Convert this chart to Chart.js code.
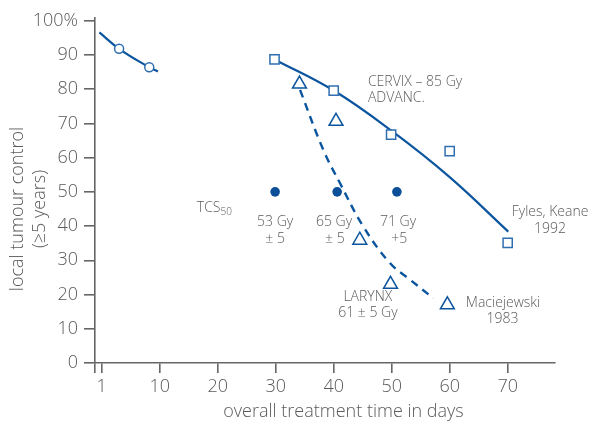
<!DOCTYPE html>
<html>
<head>
<meta charset="utf-8">
<script src="https://cdn.jsdelivr.net/npm/chart.js@4/dist/chart.umd.min.js"></script>
<style>
  html, body { margin: 0; padding: 0; background: #fff; }
  canvas { display: block; }
</style>
</head>
<body>
<canvas id="chart" width="596" height="424"></canvas>
<script>
/* axis ticks */
const xTicks = [0, 10, 20, 30, 40, 50, 60, 70];
const xTickLabels = ["1", "10", "20", "30", "40", "50", "60", "70"];
const yTicks = [0, 10, 20, 30, 40, 50, 60, 70, 80, 90, 100];

/* short treatments (open circles + fitted curve) */
const shortDays = [3.0, 8.2];
const shortControl = [91.8, 86.4];
const shortFitDays = [-0.4, 3.0, 8.2, 9.7];
const shortFitControl = [96.6, 91.8, 86.4, 85.2];

/* cervix - 85 Gy advanced (Fyles, Keane 1992) */
const cervixDays = [29.8, 40, 49.9, 60, 70];
const cervixControl = [88.7, 79.6, 66.7, 61.9, 35.1];
const cervixFitDays = [29.8, 40, 50, 60, 70.1];
const cervixFitControl = [88.7, 79.6, 67.8, 54.3, 38.4];

/* larynx 61 +- 5 Gy (Maciejewski 1983) */
const larynxDays = [34.1, 40.4, 44.5, 49.8, 59.6];
const larynxControl = [81.5, 70.6, 35.9, 23.0, 17.0];
const larynxFitDays = [34.2, 38.2, 41.1, 45.1, 49.7, 53.2, 57.2];
const larynxFitControl = [79.8, 62.3, 52.5, 39.9, 29.2, 24.3, 18.9];

/* TCS50 points */
const tcsDays = [29.9, 40.6, 50.9];
const tcsControl = [50, 50, 50];

const BLUE = "#0b559f";
const MARK = "#2f6fb0";
const GREY = "#5a5a5a";
const AXIS = "#666";
const FONT = '"Open Sans", sans-serif';

const pts = (xs, ys) => xs.map((x, i) => ({x: x, y: ys[i]}));

// text notes, anchored in data units
const notes = [
  {t: "53 Gy", x: 29.9, y: 41.2, a: "center"},
  {t: "± 5", x: 29.9, y: 36.2, a: "center"},
  {t: "65 Gy", x: 40.05, y: 41.2, a: "center"},
  {t: "± 5", x: 40.2, y: 36.2, a: "center"},
  {t: "71 Gy", x: 51.1, y: 41.2, a: "center"},
  {t: "+5", x: 51.3, y: 36.2, a: "center"},
  {t: "CERVIX – 85 Gy", x: 45.9, y: 82.1, a: "left"},
  {t: "ADVANC.", x: 45.9, y: 77.4, a: "left"},
  {t: "Fyles, Keane", x: 77.3, y: 44.1, a: "center"},
  {t: "1992", x: 77.3, y: 39.1, a: "center"},
  {t: "LARYNX", x: 45.9, y: 19.3, a: "center"},
  {t: "61 ± 5 Gy", x: 45.9, y: 14.6, a: "center"},
  {t: "Maciejewski", x: 69.2, y: 17.5, a: "center"},
  {t: "1983", x: 69.1, y: 12.9, a: "center"}
];

const notesPlugin = {
  id: "notes",
  afterDraw(chart) {
    const {ctx} = chart;
    const sx = chart.scales.x, sy = chart.scales.y;
    ctx.save();
    ctx.fillStyle = GREY;
    ctx.textBaseline = "middle";
    ctx.font = "300 14px " + FONT;
    notes.forEach(n => {
      ctx.textAlign = n.a;
      ctx.fillText(n.t, sx.getPixelForValue(n.x), sy.getPixelForValue(n.y));
    });
    // TCS with subscript 50
    const tx = sx.getPixelForValue(16.4), ty = sy.getPixelForValue(45.3);
    ctx.textAlign = "left";
    ctx.fillText("TCS", tx, ty);
    const w = ctx.measureText("TCS").width;
    ctx.font = "300 10px " + FONT;
    ctx.fillText("50", tx + w, ty + 4);
    // axis titles
    ctx.font = "300 18px " + FONT;
    ctx.textAlign = "center";
    ctx.fillText("overall treatment time in days", 343.5, 412);
    ctx.translate(18, 209);
    ctx.rotate(-Math.PI / 2);
    ctx.fillText("local tumour control", 0, 0);
    ctx.fillText("(≥5 years)", 0, 22);
    ctx.restore();
  }
};

Chart.defaults.font.family = FONT;
Chart.defaults.font.weight = 300;
Chart.defaults.color = GREY;

new Chart(document.getElementById("chart"), {
  type: "scatter",
  data: {
    datasets: [
      {data: pts(shortDays, shortControl), pointStyle: "circle", pointRadius: 4.5,
        borderColor: MARK, backgroundColor: "#fff", borderWidth: 1.5, order: 0},
      {data: pts(cervixDays, cervixControl), pointStyle: "rect", pointRadius: 6.5,
        borderColor: MARK, backgroundColor: "#fff", borderWidth: 1.5, order: 0},
      {data: pts(larynxDays, larynxControl), pointStyle: "triangle", pointRadius: 8,
        borderColor: BLUE, backgroundColor: "#fff", borderWidth: 1.5, order: 0},
      {data: pts(tcsDays, tcsControl), pointStyle: "circle", pointRadius: 4.8,
        borderColor: "#0a4f97", backgroundColor: "#0a4f97", borderWidth: 0, order: 0},
      {data: pts(shortFitDays, shortFitControl), showLine: true, pointRadius: 0,
        borderColor: BLUE, borderWidth: 2.2, tension: 0.4, order: 1},
      {data: pts(cervixFitDays, cervixFitControl), showLine: true, pointRadius: 0,
        borderColor: BLUE, borderWidth: 2.2, tension: 0.4, order: 1},
      {data: pts(larynxFitDays, larynxFitControl), showLine: true, pointRadius: 0,
        borderColor: BLUE, borderWidth: 2.4, borderDash: [8, 6], tension: 0.4, order: 1}
    ]
  },
  options: {
    responsive: false,
    animation: false,
    layout: {padding: {left: 0, top: 18, right: 41, bottom: 0}},
    plugins: {legend: {display: false}, tooltip: {enabled: false}},
    scales: {
      x: {
        type: "linear", min: -1.155, max: 78.16,
        afterFit: s => { s.height = 61; },
        afterBuildTicks: s => { s.ticks = [{value: s.min}].concat(xTicks.map(v => ({value: v}))); },
        border: {color: AXIS, width: 1.6},
        grid: {drawOnChartArea: false, color: AXIS, lineWidth: 1.6, tickLength: 10},
        ticks: {
          padding: 3, color: GREY, font: {size: 18, weight: 300},
          callback: (v, i) => i === 0 ? "" : xTickLabels[xTicks.indexOf(v)]
        }
      },
      y: {
        min: 0, max: 100.8,
        afterFit: s => { s.width = 95; },
        afterBuildTicks: s => { s.ticks = yTicks.map(v => ({value: v})); },
        border: {color: AXIS, width: 1.6},
        grid: {drawOnChartArea: false, color: AXIS, lineWidth: 1.6, tickLength: 11},
        ticks: {
          padding: 6, color: GREY, font: {size: 18, weight: 300},
          callback: v => v === 100 ? "100%" : String(v)
        }
      }
    }
  },
  plugins: [notesPlugin]
});
</script>
</body>
</html>
